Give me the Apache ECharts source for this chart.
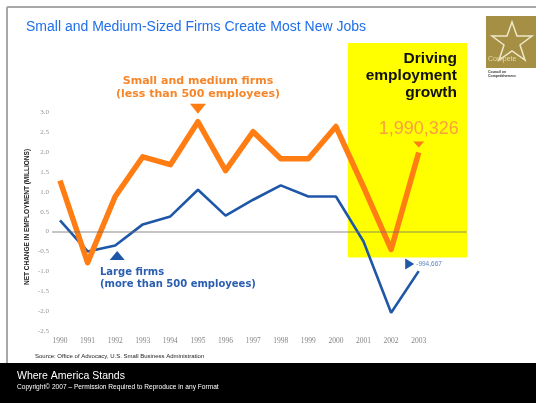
<!DOCTYPE html>
<html>
<head>
<meta charset="utf-8">
<script src="https://cdn.jsdelivr.net/npm/echarts@6/dist/echarts.min.js"></script>
<style>
  html, body { margin: 0; padding: 0; background: #fff; }
  #chart { width: 536px; height: 403px; }
</style>
</head>
<body>
<div id="chart"></div>
<script>
// Net change in employment, millions of jobs, by firm size
var years = [1990, 1991, 1992, 1993, 1994, 1995, 1996, 1997, 1998, 1999, 2000, 2001, 2002, 2003];
var smallMedium = [1.28, -0.78, 0.88, 1.88, 1.68, 2.76, 1.53, 2.51, 1.83, 1.83, 2.64, 1.12, -0.45, 1.990326];
var large = [0.28, -0.50, -0.35, 0.18, 0.38, 1.05, 0.40, 0.80, 1.16, 0.88, 0.88, -0.25, -2.04, -0.994667];
var yTicks = [-2.5, -2.0, -1.5, -1.0, -0.5, 0, 0.5, 1.0, 1.5, 2.0, 2.5, 3.0];

var ORANGE = '#ff7d12';
var BLUE = '#1f57a8';

function pairs(vals) {
  return vals.map(function (v, i) { return [years[i], v]; });
}
function fmtJobs(v) {
  return Math.round(v * 1e6).toLocaleString('en-US');
}

var chart = echarts.init(document.getElementById('chart'), null, { renderer: 'canvas' });

chart.setOption({
  animation: false,
  backgroundColor: '#ffffff',
  grid: { left: 52, right: 69, top: 43, bottom: 72 },
  xAxis: {
    type: 'value',
    min: 1989.71,
    max: 2004.75,
    axisLine: { show: false },
    axisTick: { show: false },
    splitLine: { show: false },
    axisLabel: {
      customValues: years,
      formatter: function (v) { return String(v); },
      color: '#858585',
      fontSize: 7.5,
      fontFamily: 'Liberation Serif',
      margin: 6
    }
  },
  yAxis: {
    type: 'value',
    min: -2.5,
    max: 4.74,
    axisLine: { show: false },
    axisTick: { show: false },
    splitLine: { show: false },
    axisLabel: {
      customValues: yTicks,
      formatter: function (v) { return v === 0 ? '0' : v.toFixed(1); },
      color: '#949494',
      fontSize: 7,
      fontFamily: 'Liberation Serif',
      margin: 3
    }
  },
  series: [
    {
      // highlighted recent period
      type: 'line',
      data: [],
      z: 1,
      markArea: {
        silent: true,
        itemStyle: { color: '#ffff00' },
        data: [[{ xAxis: 2000.43, yAxis: -0.65 }, { xAxis: 2004.75, yAxis: 4.74 }]]
      }
    },
    {
      // zero reference line
      type: 'line',
      data: [],
      z: 2,
      markLine: {
        silent: true,
        symbol: ['none', 'none'],
        label: { show: false },
        lineStyle: { color: 'rgba(110,110,110,0.4)', width: 2, type: 'solid' },
        data: [{ yAxis: 0 }]
      }
    },
    {
      name: 'Large firms',
      type: 'line',
      data: pairs(large),
      z: 3,
      showSymbol: false,
      lineStyle: { color: BLUE, width: 2.6 },
      markPoint: {
        symbol: 'triangle',
        data: [
          { coord: [1992, large[2]], symbolSize: [15, 9], symbolOffset: [2, 10], itemStyle: { color: BLUE }, label: { show: false } },
          {
            coord: [2003, large[13]], value: large[13], symbolSize: [11, 9], symbolRotate: -90, symbolOffset: [-9, -7],
            itemStyle: { color: BLUE },
            label: {
              show: true, position: 'right', distance: 2,
              formatter: function (p) { return fmtJobs(p.value); },
              color: '#5b84c4', fontSize: 6.5, fontFamily: 'Liberation Sans'
            }
          }
        ]
      }
    },
    {
      name: 'Small and medium firms',
      type: 'line',
      data: pairs(smallMedium),
      z: 4,
      showSymbol: false,
      lineStyle: { color: ORANGE, width: 5.5, join: 'round' },
      markPoint: {
        symbol: 'triangle',
        symbolRotate: 180,
        data: [
          { coord: [1995, smallMedium[5]], symbolSize: [16, 10], symbolOffset: [0, -13], itemStyle: { color: ORANGE }, label: { show: false } },
          {
            coord: [2003, smallMedium[13]], value: smallMedium[13], symbolSize: [11, 6], symbolOffset: [0, -8],
            itemStyle: { color: ORANGE },
            label: {
              show: true, position: 'top', distance: 3,
              formatter: function (p) { return fmtJobs(p.value); },
              color: '#f9a040', fontSize: 18, fontFamily: 'Liberation Sans'
            }
          }
        ]
      }
    }
  ],
  graphic: [
    // frame
    { type: 'line', shape: { x1: 7, y1: 7, x2: 536, y2: 7 }, style: { stroke: '#a8a8a8', lineWidth: 2 }, silent: true },
    { type: 'line', shape: { x1: 7, y1: 7, x2: 7, y2: 364 }, style: { stroke: '#a8a8a8', lineWidth: 2 }, silent: true },
    // heading
    { type: 'text', left: 26, top: 20, style: { text: 'Small and Medium-Sized Firms Create Most New Jobs', fill: '#1f6fea', font: '14px "Liberation Sans", Arial, sans-serif' } },
    // logo
    { type: 'rect', shape: { x: 486, y: 16, width: 50, height: 52 }, style: { fill: '#a48f45' }, silent: true },
    { type: 'polygon', shape: { points: [[512, 22], [517, 36], [532, 36], [520, 45], [525, 60], [512, 51], [499, 60], [504, 45], [492, 36], [507, 36]] }, style: { fill: 'none', stroke: '#efe8c8', lineWidth: 1.5 }, silent: true },
    { type: 'text', left: 488, top: 56, style: { text: 'Compete', fill: '#e6dca8', font: '7px "Liberation Sans", Arial, sans-serif' } },
    { type: 'text', left: 488, top: 70, style: { text: 'Council on\nCompetitiveness', fill: '#333', font: 'bold 3.5px "Liberation Sans", Arial, sans-serif', lineHeight: 4 } },
    // y-axis title
    { type: 'text', x: 27, y: 217, rotation: Math.PI / 2, style: { text: 'NET CHANGE IN EMPLOYMENT (MILLIONS)', fill: '#222', font: 'bold 6.5px "Liberation Sans", Arial, sans-serif', align: 'center', verticalAlign: 'middle' } },
    // series annotations
    { type: 'text', x: 198, y: 75, z: 10, style: { text: 'Small and medium firms\n(less than 500 employees)', fill: '#f7862a', font: 'bold 11px "DejaVu Sans", sans-serif', align: 'center', lineHeight: 13 } },
    { type: 'text', x: 100, y: 266, z: 10, style: { text: 'Large firms\n(more than 500 employees)', fill: '#2a5eb0', font: 'bold 10px "DejaVu Sans", sans-serif', align: 'left', lineHeight: 12 } },
    { type: 'text', x: 457, y: 50, z: 10, style: { text: 'Driving\nemployment\ngrowth', fill: '#111', font: 'bold 15.5px "Liberation Sans", Arial, sans-serif', align: 'right', lineHeight: 17 } },
    // source
    { type: 'text', left: 35, top: 353, style: { text: 'Source: Office of Advocacy, U.S. Small Business Administration', fill: '#222', font: '6px "Liberation Sans", Arial, sans-serif' } },
    // footer band
    { type: 'rect', shape: { x: 0, y: 363, width: 536, height: 40 }, style: { fill: '#000' }, silent: true },
    { type: 'text', left: 17, top: 371, style: { text: 'Where America Stands', fill: '#fff', font: '10.5px "Liberation Sans", Arial, sans-serif' } },
    { type: 'text', left: 17, top: 384, style: { text: 'Copyright\u00a9 2007 \u2013 Permission Required to Reproduce in any Format', fill: '#fff', font: '6.6px "Liberation Sans", Arial, sans-serif' } }
  ]
});
</script>
</body>
</html>
